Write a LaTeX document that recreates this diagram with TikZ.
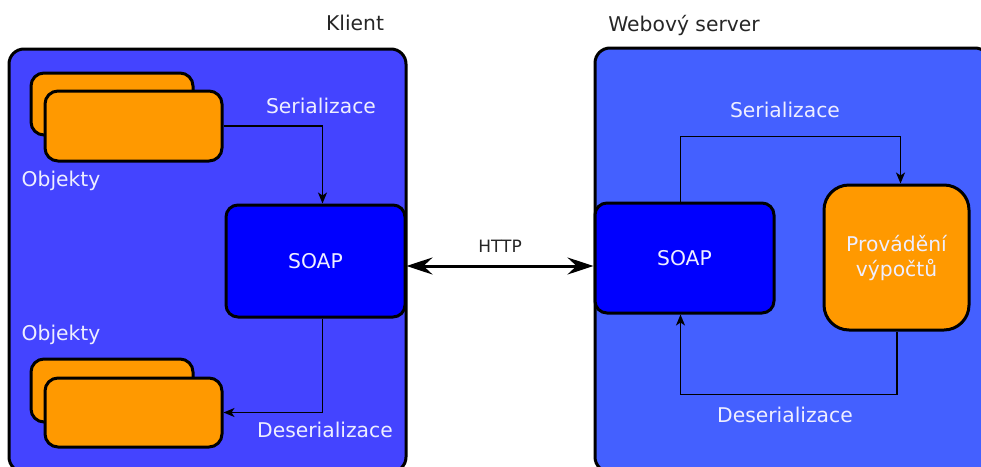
\documentclass[tikz,border=0pt]{standalone}
\usepackage{fontspec}
\setmainfont{DejaVu Sans}
\usepackage{xcolor}
\usepackage{tikz}
\usetikzlibrary{arrows.meta, positioning, calc}
\definecolor{klientblue}{RGB}{68, 68, 255}
\definecolor{serverblue}{RGB}{68, 96, 255}
\definecolor{soapblue}{RGB}{0, 0, 255}
\definecolor{objorange}{RGB}{255, 153, 0}
\definecolor{labelink}{RGB}{238, 238, 255}

\begin{document}
\begin{tikzpicture}[x=1pt, y=-1pt,
		area/.style={draw=black, line width=3pt, rounded corners=15pt, inner sep=0pt},
		objbox/.style={draw=black, fill=objorange, line width=3pt, rounded corners=13pt, inner sep=0pt},
		soapbox/.style={draw=black, fill=soapblue, line width=3pt, rounded corners=12pt, inner sep=0pt, text=labelink, font=\fontsize{20.3}{24}\selectfont},
		flow/.style={draw=black, line width=1.5pt, -{Stealth[length=11pt, width=9pt, inset=3pt]}},
		inlabel/.style={text=labelink, font=\fontsize{20.3}{24}\selectfont},
		outlabel/.style={text=black!85, font=\fontsize{20.3}{24}\selectfont}]
	\useasboundingbox (0,0) rectangle (981,466);
	\clip (0,0) rectangle (981,466);

	% Areas
	\node[area, fill=klientblue, minimum width=397pt, minimum height=423pt] (klient) at (207.5,260.5) {};
	\node[area, fill=serverblue, minimum width=395pt, minimum height=424pt] (server) at (792.5,260) {};
	\node[outlabel] (klientlbl) at (355,23) {Klient};
	\node[outlabel] (serverlbl) at (684,25) {Webový server};

	% Objects (client side)
	\node[objbox, minimum width=162pt, minimum height=62pt] (objA1) at (112,104) {};
	\node[objbox, minimum width=177pt, minimum height=70pt] (objA2) at (133.5,126) {};
	\node[objbox, minimum width=162pt, minimum height=63pt] (objB1) at (112,390.5) {};
	\node[objbox, minimum width=177pt, minimum height=69pt] (objB2) at (133.5,412.5) {};
	\node[inlabel] (objAlbl) at (61,181) {Objekty};
	\node[inlabel] (objBlbl) at (61,335) {Objekty};

	% SOAP boxes
	\node[soapbox, minimum width=179pt, minimum height=112pt] (soapK) at (315.5,261) {SOAP};
	\node[soapbox, minimum width=179pt, minimum height=110pt] (soapS) at (684.5,258) {SOAP};

	% Computation
	\node[objbox, rounded corners=25pt, minimum width=145pt, minimum height=145pt, align=center,
		text=labelink, font=\fontsize{20.3}{25}\selectfont] (calc) at (896.5,257.5) {Provádění\\výpočtů};

	% Client flows
	\draw[flow] (objA2.east) -| ([xshift=7pt]soapK.north);
	\draw[flow] ([xshift=7pt]soapK.south) |- (objB2.east);
	\node[inlabel] (serK) at (321,106) {Serializace};
	\node[inlabel] (deserK) at (325,430) {Deserializace};

	% HTTP
	\draw[line width=3pt, {Stealth[length=26pt, width=17pt, inset=9pt]}-{Stealth[length=26pt, width=17pt, inset=9pt]}]
		([yshift=-5pt]soapK.east) -- ([yshift=-5pt]soapK.east -| soapS.west)
		node[midway, above=9pt, text=black!85, font=\fontsize{17}{20}\selectfont] (http) {HTTP};

	% Server flows
	\draw[flow] ([xshift=-4pt]soapS.north) -- ++(0,-65) -| ([xshift=4pt]calc.north);
	\draw[flow] ([xshift=0.5pt]calc.south) -- ++(0,63) -| ([xshift=-4pt]soapS.south);
	\node[inlabel] (serS) at (785,110) {Serializace};
	\node[inlabel] (deserS) at (785,415) {Deserializace};
\end{tikzpicture}
\end{document}
